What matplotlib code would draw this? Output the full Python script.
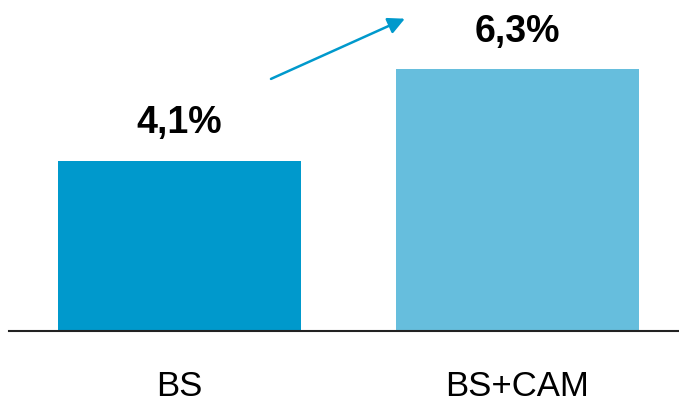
import matplotlib.pyplot as plt

categories = ["BS", "BS+CAM"]
values = [4.1, 6.3]
value_labels = ["4,1%", "6,3%"]
colors = ["#0099CC", "#66BEDD"]

plt.rcParams["font.family"] = ["Liberation Sans", "DejaVu Sans"]

fig = plt.figure(figsize=(6.79, 4.05), dpi=100)
ax = fig.add_axes([9 / 679, 74 / 405, 670 / 679, 331 / 405])

x = range(len(categories))
bars = ax.bar(x, values, width=0.72, color=colors)

for bar, lab in zip(bars, value_labels):
    ax.annotate(lab, (bar.get_x() + bar.get_width() / 2, bar.get_height()),
                xytext=(0, 14), textcoords="offset points",
                ha="center", va="bottom", fontsize=27, fontweight="bold")

# growth arrow
ax.annotate("", xy=(0.667, 7.52), xytext=(0.271, 6.07),
            arrowprops=dict(arrowstyle="-|>,head_length=1.0,head_width=0.5",
                            color="#0099CC", lw=1.8, shrinkA=0, shrinkB=0),
            annotation_clip=False)

ax.set_xlim(-0.504, 1.478)
ax.set_ylim(0, 7.97)
ax.set_xticks(list(x))
ax.set_xticklabels(categories, fontsize=25)
ax.tick_params(axis="x", length=0, pad=28)
ax.set_yticks([])
for side in ["top", "right", "left"]:
    ax.spines[side].set_visible(False)
ax.spines["bottom"].set_color("#222222")
ax.spines["bottom"].set_linewidth(1.5)

fig.savefig("out.png", dpi=100)
